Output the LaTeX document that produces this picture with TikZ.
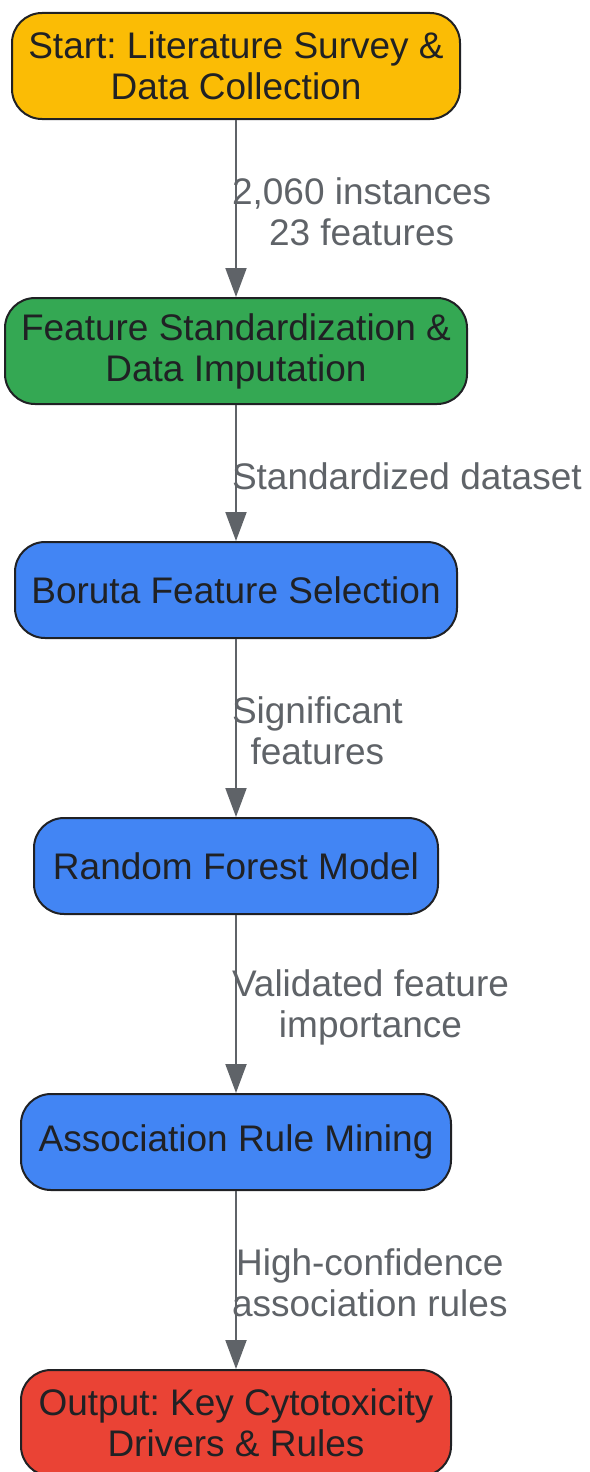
\documentclass[tikz,border=0pt]{standalone}
\usepackage{fontspec}
\setmainfont{Liberation Sans}
\usetikzlibrary{arrows.meta}
\frenchspacing
\definecolor{cyellow}{HTML}{FBBC05}
\definecolor{cgreen}{HTML}{34A853}
\definecolor{cblue}{HTML}{4285F4}
\definecolor{cred}{HTML}{EA4335}
\definecolor{cborder}{HTML}{202124}
\definecolor{cgray}{HTML}{5F6368}
\tikzset{
  stepbox/.style={draw=cborder, line width=2pt, rounded corners=30pt,
    text=cborder, align=center, inner sep=0pt,
    font=\fontsize{37}{41}\selectfont\frenchspacing},
  arr/.style={draw=cgray, line width=2pt,
    -{Triangle[width=21pt,length=29pt]}},
  lbl/.style={text=cgray, align=center, inner sep=0pt, anchor=west,
    xshift=-5pt, yshift=-3pt, font=\fontsize{37}{41}\selectfont\frenchspacing}
}
\begin{document}
\begin{tikzpicture}[x=1pt,y=-1pt]
\useasboundingbox (0,0) rectangle (589,1472);
\node[stepbox, fill=cyellow, minimum width=448pt, minimum height=106pt] (n1) at (236,66) {Start: Literature Survey \&\\Data Collection};
\node[stepbox, fill=cgreen, minimum width=462pt, minimum height=106pt] (n2) at (236,351) {Feature Standardization \&\\Data Imputation};
\node[stepbox, fill=cblue, minimum width=442pt, minimum height=96pt] (n3) at (236,590) {Boruta Feature Selection};
\node[stepbox, fill=cblue, minimum width=404pt, minimum height=96pt] (n4) at (236,866) {Random Forest Model};
\node[stepbox, fill=cblue, minimum width=430pt, minimum height=96pt] (n5) at (236,1142) {Association Rule Mining};
\node[stepbox, fill=cred, minimum width=430pt, minimum height=106pt] (n6) at (236,1423) {Output: Key Cytotoxicity\\Drivers \& Rules};
\draw[arr] (n1.south) -- node[lbl] {2,060 instances\\23 features} (n2.north);
\draw[arr] (n2.south) -- node[lbl] {Standardized dataset} (n3.north);
\draw[arr] (n3.south) -- node[lbl] {Significant\\features} (n4.north);
\draw[arr] (n4.south) -- node[lbl] {Validated feature\\importance} (n5.north);
\draw[arr] (n5.south) -- node[lbl] {High-confidence\\association rules} (n6.north);
\end{tikzpicture}
\end{document}
